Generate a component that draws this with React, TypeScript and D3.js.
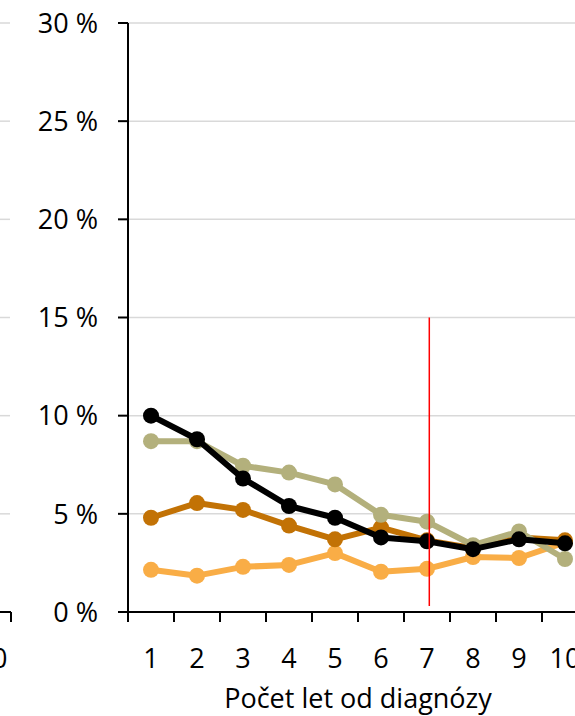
import * as d3 from "d3";

const years = ["1", "2", "3", "4", "5", "6", "7", "8", "9", "10"];
const yTickValues = [0, 5, 10, 15, 20, 25, 30];

// podíl v % podle roku od diagnózy
const lightOrange = [2.15, 1.85, 2.3, 2.4, 3.0, 2.05, 2.2, 2.8, 2.75, 3.55];
const darkOrange = [4.8, 5.55, 5.2, 4.4, 3.7, 4.3, 3.65, 3.25, 3.8, 3.65];
const olive = [8.7, 8.7, 7.45, 7.1, 6.5, 4.95, 4.6, 3.4, 4.1, 2.7];
const black = [10.0, 8.8, 6.8, 5.4, 4.8, 3.8, 3.6, 3.2, 3.7, 3.5];

const seriesList = [
  { name: "lightOrange", values: lightOrange, color: "#f9ad46" },
  { name: "darkOrange", values: darkOrange, color: "#c27205" },
  { name: "olive", values: olive, color: "#b3b07c" },
  { name: "black", values: black, color: "#000000" },
];

const markerYear = 7.05;
const markerTop = 15;
const markerBottom = 0.3;

export default function App() {
  const width = 575;
  const height = 716;
  const font = "'Open Sans', sans-serif";

  const xScale = d3.scaleBand().domain(years).range([128, 588]).padding(0);
  const yScale = d3.scaleLinear().domain([0, 30]).range([612, 23]);
  const bw = xScale.bandwidth();
  const cx = (i: number) => (xScale(years[i]) ?? 0) + bw / 2;

  const line = d3
    .line<number>()
    .x((_, i) => cx(i))
    .y((d) => yScale(d));

  const edges = d3.range(years.length + 1).map((i) => 128 + i * bw);
  const redX = 128 + (markerYear - 0.5) * bw;

  return (
    <svg
      width={width}
      height={height}
      style={{ position: "absolute", left: 0, top: 0, background: "#fff" }}
      fontFamily={font}
    >
      {/* zbytek sousedního grafu vlevo */}
      {yTickValues.slice(1).map((t) => (
        <line key={`lg-${t}`} x1={0} x2={10} y1={yScale(t)} y2={yScale(t)} stroke="#d9d9d9" strokeWidth={1.5} />
      ))}
      <line x1={0} x2={11} y1={yScale(0)} y2={yScale(0)} stroke="#000" strokeWidth={2} />
      <line x1={11} x2={11} y1={yScale(0)} y2={yScale(0) + 10} stroke="#000" strokeWidth={2} />
      <text x={-8} y={668} textAnchor="middle" fontSize={27} fill="#000">
        10
      </text>

      {yTickValues.slice(1).map((t) => (
        <line
          key={`g-${t}`}
          x1={128}
          x2={width}
          y1={yScale(t)}
          y2={yScale(t)}
          stroke="#d9d9d9"
          strokeWidth={1.5}
        />
      ))}

      {yTickValues.map((t) => (
        <g key={`y-${t}`}>
          <line x1={118} x2={128} y1={yScale(t)} y2={yScale(t)} stroke="#000" strokeWidth={2} />
          <text x={98} y={yScale(t)} dy="0.36em" textAnchor="end" fontSize={27} fill="#000">
            {`${t} %`}
          </text>
        </g>
      ))}

      <line x1={128} x2={128} y1={yScale(30)} y2={yScale(0)} stroke="#000" strokeWidth={2} />
      <line x1={128} x2={width} y1={yScale(0)} y2={yScale(0)} stroke="#000" strokeWidth={2} />
      {edges.map((x) => (
        <line key={`xt-${x}`} x1={x} x2={x} y1={yScale(0)} y2={yScale(0) + 10} stroke="#000" strokeWidth={2} />
      ))}
      {years.map((y, i) => (
        <text key={`xl-${y}`} x={cx(i)} y={668} textAnchor="middle" fontSize={27} fill="#000">
          {y}
        </text>
      ))}

      <text x={358} y={708} textAnchor="middle" fontSize={27} fill="#000">
        Počet let od diagnózy
      </text>

      {seriesList.map((s) => (
        <g key={s.name}>
          <path
            d={line(s.values) ?? ""}
            fill="none"
            stroke={s.color}
            strokeWidth={6}
            strokeLinejoin="round"
          />
          {s.values.map((v, i) => (
            <circle key={`${s.name}-${i}`} cx={cx(i)} cy={yScale(v)} r={8} fill={s.color} />
          ))}
        </g>
      ))}

      <line
        x1={redX}
        x2={redX}
        y1={yScale(markerTop)}
        y2={yScale(markerBottom)}
        stroke="#ff0000"
        strokeWidth={1.5}
      />
    </svg>
  );
}
